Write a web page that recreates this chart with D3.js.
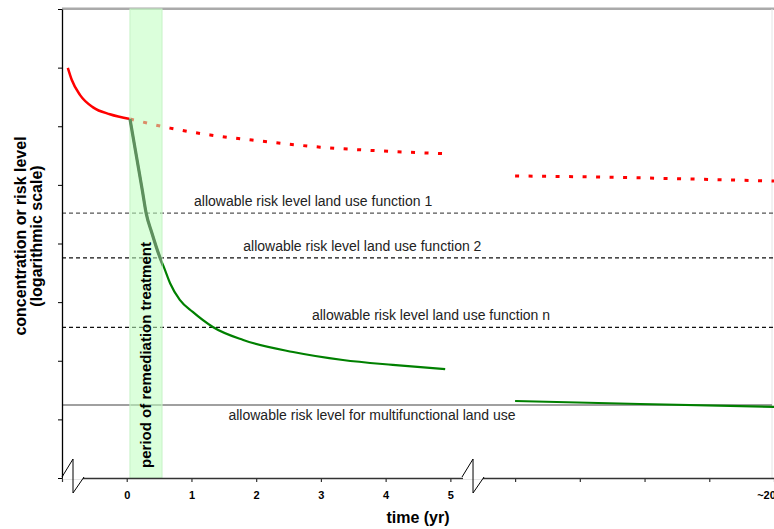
<!DOCTYPE html>
<html lang="en">
<head>
<meta charset="UTF-8">
<title>Remediation risk levels</title>
<script src="https://d3js.org/d3.v7.min.js"></script>
<style>
    body { margin: 0; background: #fff; }
    svg { display: block; font-family: Arial, "Liberation Sans", sans-serif; }
    .level-label { font-size: 14px; fill: #222; }
    .axis-title { font-size: 16px; font-weight: bold; fill: #000; }
    .tick text { font-size: 11px; font-weight: bold; fill: #000; }
</style>
</head>
<body>
<script>
// x positions are axis slots: -1 .. 10, slot 10 is ~20 years
const slotLabels = ["", "0", "1", "2", "3", "4", "5", "", "", "", "", "~20"];
const slots = d3.range(-1, 11);
const breakSlots = [-0.83, 5.35];
const treatment = [0.05, 0.545];

// concentration before remediation
const redBeforeT = [-0.91, -0.85, -0.72, -0.52, -0.26, 0.05];
const redBeforeC = [9.9e6, 6.2e6, 3.4e6, 2.1e6, 1.6e6, 1.33e6];
// no remediation
const redNoActT = [0.05, 0.67, 1.29, 2.06, 2.99, 3.91, 4.92];
const redNoActC = [1.33e6, 9.3e5, 7.1e5, 5.6e5, 4.4e5, 3.8e5, 3.4e5];
const redLateT = [6.0, 7.31, 8.7, 10];
const redLateC = [1.42e5, 1.36e5, 1.26e5, 1.16e5];
// with remediation
const greenT = [0.05, 0.16, 0.24, 0.30, 0.39, 0.51, 0.58, 0.67, 0.82, 1.02, 1.33, 1.80, 2.57, 3.34, 4.11, 4.92];
const greenC = [1.33e6, 2.66e5, 8.2e4, 3.3e4, 1.5e4, 5.9e3, 3.8e3, 2.1e3, 1090, 680, 377, 226, 141, 103, 85, 72];
const greenLateT = [6.0, 7.93, 10];
const greenLateC = [20.6, 18.3, 16.3];

// allowable risk levels
const levelNames = [
    "allowable risk level land use function 1",
    "allowable risk level land use function 2",
    "allowable risk level land use function n",
    "allowable risk level for multifunctional land use"
];
const levelValues = [3.3e4, 5.7e3, 370, 17.6];
const levelLabelSlot = [2.88, 3.64, 4.70, 3.79];

const width = 774, height = 529;
const x = d3.scaleLinear().domain([-1, 10]).range([62, 774]);
const y = d3.scaleLog().domain([1, 1e8]).range([478, 9]);

const svg = d3.select("body").append("svg")
    .attr("width", width)
    .attr("height", height);

const zip = (ts, cs) => ts.map((t, i) => [t, cs[i]]);
const line = d3.line()
    .x(d => x(d[0]))
    .y(d => y(d[1]))
    .curve(d3.curveMonotoneX);

// frame
svg.append("line")
    .attr("x1", x(-1)).attr("x2", 774)
    .attr("y1", 8.7).attr("y2", 8.7)
    .attr("stroke", "#aaa").attr("stroke-width", 2.5);
svg.append("line")
    .attr("x1", 772).attr("x2", 772)
    .attr("y1", 9).attr("y2", 478)
    .attr("stroke", "#e4e4e4").attr("stroke-width", 1);

// allowable levels
levelValues.forEach((v, i) => {
    const multi = i === levelValues.length - 1;
    svg.append("line")
        .attr("x1", x(-1)).attr("x2", multi ? 772 : 774)
        .attr("y1", y(v)).attr("y2", y(v))
        .attr("stroke", multi ? "#808080" : (i === 0 ? "#555" : "#111"))
        .attr("stroke-width", multi ? 1.6 : 1.2)
        .attr("stroke-dasharray", multi ? null : "4,3");
    svg.append("text")
        .attr("class", "level-label")
        .attr("x", x(levelLabelSlot[i]))
        .attr("y", y(v) + (multi ? 15 : -7))
        .attr("text-anchor", "middle")
        .text(levelNames[i]);
});

// curves
svg.append("path")
    .attr("d", line(zip(redBeforeT, redBeforeC)))
    .attr("fill", "none").attr("stroke", "#f00").attr("stroke-width", 2.5);
[zip(redNoActT, redNoActC), zip(redLateT, redLateC)].forEach(pts => {
    svg.append("path")
        .attr("d", line(pts))
        .attr("fill", "none").attr("stroke", "#f00")
        .attr("stroke-width", 3).attr("stroke-dasharray", "4,9.5");
});
svg.append("path")
    .attr("d", line(zip(greenT, greenC)))
    .attr("fill", "none").attr("stroke", "#008000").attr("stroke-width", 2.2);
svg.append("path")
    .attr("d", line(zip(greenLateT, greenLateC)))
    .attr("fill", "none").attr("stroke", "#008000").attr("stroke-width", 2.2);

// remediation period band
svg.append("rect")
    .attr("x", x(treatment[0]))
    .attr("y", 9)
    .attr("width", x(treatment[1]) - x(treatment[0]))
    .attr("height", 478 - 9)
    .attr("fill", "rgb(190,255,190)")
    .attr("fill-opacity", 0.55)
    .attr("stroke", "#c6f2c6")
    .attr("stroke-width", 1);

svg.append("clipPath").attr("id", "band-clip")
    .append("rect")
    .attr("x", x(treatment[0]) - 3)
    .attr("y", 0)
    .attr("width", x(treatment[1]) - x(treatment[0]) + 3)
    .attr("height", height);
svg.append("path")
    .attr("d", line(zip(greenT, greenC)))
    .attr("clip-path", "url(#band-clip)")
    .attr("fill", "none").attr("stroke", "#5e8f5e").attr("stroke-width", 3.2);

svg.append("text")
    .attr("transform", `translate(${(x(treatment[0]) + x(treatment[1])) / 2 + 5.5},355) rotate(-90)`)
    .attr("text-anchor", "middle")
    .style("font-size", "15px").style("font-weight", "bold")
    .text("period of remediation treatment");

// axes
const yAxis = svg.append("g")
    .attr("transform", `translate(${x(-1)},0)`)
    .call(d3.axisLeft(y)
        .tickValues(d3.range(0, 9).map(p => Math.pow(10, p)))
        .tickFormat("")
        .tickSize(4)
        .tickSizeOuter(0));
yAxis.select(".domain").attr("stroke", "#000").attr("stroke-width", 1.3);

const xAxis = svg.append("g")
    .attr("transform", "translate(0,478)")
    .call(d3.axisBottom(x)
        .tickValues(slots)
        .tickFormat((d, i) => slotLabels[i])
        .tickSize(4)
        .tickPadding(9)
        .tickSizeOuter(0));
xAxis.select(".domain").attr("stroke", "#333").attr("stroke-width", 1.5);
xAxis.selectAll(".tick line").attr("stroke", "#333").attr("stroke-width", 1.2);
// last label sits left of its tick, clipped by the edge as in the original
xAxis.selectAll(".tick text").filter(d => d === 10).attr("dx", -8);

// axis breaks
breakSlots.forEach(s => {
    const cx = x(s);
    svg.append("line")
        .attr("x1", cx - 10).attr("x2", cx + 10)
        .attr("y1", 478).attr("y2", 478)
        .attr("stroke", "#fff").attr("stroke-width", 3);
    svg.append("path")
        .attr("d", `M${cx - 11},477 L${cx},459 L${cx},493 L${cx + 11},477`)
        .attr("fill", "none").attr("stroke", "#000").attr("stroke-width", 1);
});

// titles
svg.append("text")
    .attr("class", "axis-title")
    .attr("transform", "translate(26,236) rotate(-90)")
    .attr("text-anchor", "middle")
    .text("concentration or risk level");
svg.append("text")
    .attr("class", "axis-title")
    .attr("transform", "translate(42,236) rotate(-90)")
    .attr("text-anchor", "middle")
    .text("(logarithmic scale)");
svg.append("text")
    .attr("class", "axis-title")
    .attr("x", 418).attr("y", 523)
    .attr("text-anchor", "middle")
    .text("time (yr)");
</script>
</body>
</html>
